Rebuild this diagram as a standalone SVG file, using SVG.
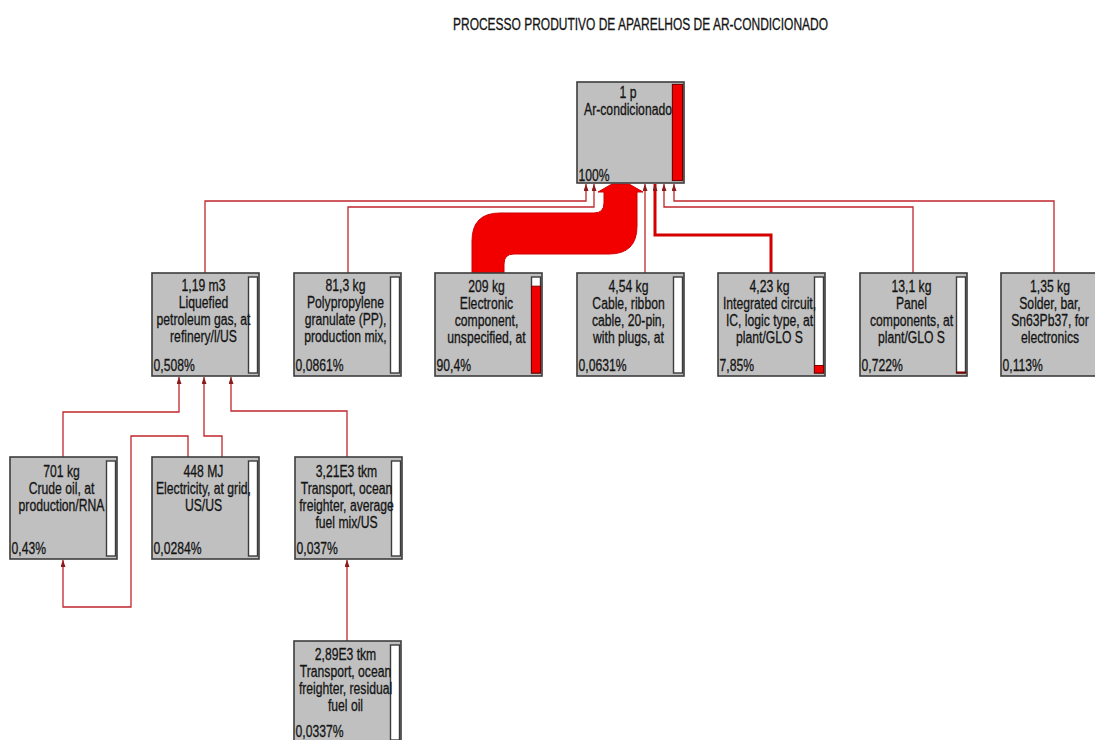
<svg xmlns="http://www.w3.org/2000/svg" width="1095" height="740" viewBox="0 0 1095 740">
  <defs>
    <style>
      .box{fill:#c0c0c0;stroke:#3c3c3c;stroke-width:1.6}
      .bar{fill:#ffffff;stroke:#3c3c3c;stroke-width:1.4}
      .lvl{fill:#f00000;stroke:#7a0000;stroke-width:1}
      text{font-family:"Liberation Sans",Arial,sans-serif;font-size:16px;fill:#141414;stroke:#141414;stroke-width:0.3}
      .c{text-anchor:middle}
      .wire{fill:none;stroke:#c0262c;stroke-width:1.3;marker-end:url(#arr)}
      .heavy{stroke:#d40000;stroke-width:3}
      .flow{fill:#f20000;stroke:#d00000;stroke-width:1}
    </style>
    <marker id="arr" viewBox="0 0 7 5" refX="7" refY="2.5" markerWidth="7" markerHeight="5" markerUnits="userSpaceOnUse" orient="auto">
      <path d="M0,0 L7,2.5 L0,5 z" fill="#8b1a1a"/>
    </marker>
  </defs>
  <rect width="1095" height="740" fill="#ffffff"/>

  <text id="title" x="453" y="30" font-size="17" textLength="375" lengthAdjust="spacingAndGlyphs">PROCESSO PRODUTIVO DE APARELHOS DE AR-CONDICIONADO</text>

  <!-- connectors -->
  <g id="connectors">
    <!-- heavy flow from electronic components -->
    <path class="flow" d="M472,273 V241 Q472,213 500,213 H594 Q604,213 604,203 V192 L598,192 L612,184 H629 L643,192 L637,192 V226 Q637,254 609,254 H514 Q504,254 504,264 V273 Z"/>
    <path class="wire" d="M205,273 V201 H586 V184"/>
    <path class="wire" d="M348,273 V207 H594 V184"/>
    <path class="wire" d="M645,273 V184"/>
    <path class="wire heavy" d="M771,273 V235 H655 V184"/>
    <path class="wire" d="M913,273 V207 H664 V184"/>
    <path class="wire" d="M1054,273 V201 H674 V184"/>
    <!-- inputs to liquefied petroleum gas -->
    <path class="wire" d="M63,457 V412 H179 V377"/>
    <path class="wire" d="M222,457 V436 H204 V377"/>
    <path class="wire" d="M347,457 V411 H231 V377"/>
    <!-- electricity to crude oil -->
    <path class="wire" d="M188,457 V436 H131 V607 H63 V560"/>
    <!-- residual fuel transport to average transport -->
    <path class="wire" d="M347,641 V560"/>
  </g>

  <!-- root process -->
  <g id="n-ac" transform="translate(577,82)">
    <rect class="box" width="107" height="101"/>
    <rect class="bar" x="95.5" y="2.5" width="10" height="96"/>
    <rect class="lvl" x="95.5" y="2.5" width="10" height="96"/>
    <text class="c" transform="translate(51,0) scale(0.76,1)"><tspan x="0" y="16">1 p</tspan><tspan x="0" y="33">Ar-condicionado</tspan></text>
    <text transform="translate(1.5,99) scale(0.76,1)">100%</text>
  </g>

  <g id="n-lpg" transform="translate(152,273)">
    <rect class="box" width="107" height="103"/>
    <rect class="bar" x="96.5" y="4" width="9" height="96"/>
    <text class="c" transform="translate(51.5,0) scale(0.76,1)"><tspan x="0" y="18">1,19 m3</tspan><tspan x="0" y="35">Liquefied</tspan><tspan x="0" y="52">petroleum gas, at</tspan><tspan x="0" y="69">refinery/l/US</tspan></text>
    <text transform="translate(1.5,98) scale(0.76,1)">0,508%</text>
  </g>

  <g id="n-pp" transform="translate(294,273)">
    <rect class="box" width="107" height="103"/>
    <rect class="bar" x="96.5" y="4" width="9" height="96"/>
    <text class="c" transform="translate(51.5,0) scale(0.76,1)"><tspan x="0" y="18">81,3 kg</tspan><tspan x="0" y="35">Polypropylene</tspan><tspan x="0" y="52">granulate (PP),</tspan><tspan x="0" y="69">production mix,</tspan></text>
    <text transform="translate(1.5,98) scale(0.76,1)">0,0861%</text>
  </g>

  <g id="n-elec-comp" transform="translate(435,273)">
    <rect class="box" width="107" height="103"/>
    <rect class="bar" x="96.5" y="4" width="9" height="96"/>
    <rect class="lvl" x="96.5" y="13.2" width="9" height="86.8"/>
    <text class="c" transform="translate(51.5,0) scale(0.76,1)"><tspan x="0" y="19">209 kg</tspan><tspan x="0" y="36">Electronic</tspan><tspan x="0" y="53">component,</tspan><tspan x="0" y="70">unspecified, at</tspan></text>
    <text transform="translate(1.5,98) scale(0.76,1)">90,4%</text>
  </g>

  <g id="n-cable" transform="translate(577,273)">
    <rect class="box" width="107" height="103"/>
    <rect class="bar" x="96.5" y="4" width="9" height="96"/>
    <text class="c" transform="translate(51.5,0) scale(0.76,1)"><tspan x="0" y="19">4,54 kg</tspan><tspan x="0" y="36">Cable, ribbon</tspan><tspan x="0" y="53">cable, 20-pin,</tspan><tspan x="0" y="70">with plugs, at</tspan></text>
    <text transform="translate(1.5,98) scale(0.76,1)">0,0631%</text>
  </g>

  <g id="n-ic" transform="translate(718,273)">
    <rect class="box" width="107" height="103"/>
    <rect class="bar" x="96.5" y="4" width="9" height="96"/>
    <rect class="lvl" x="96.5" y="92.5" width="9" height="7.5"/>
    <text class="c" transform="translate(51.5,0) scale(0.76,1)"><tspan x="0" y="19">4,23 kg</tspan><tspan x="0" y="36">Integrated circuit,</tspan><tspan x="0" y="53">IC, logic type, at</tspan><tspan x="0" y="70">plant/GLO S</tspan></text>
    <text transform="translate(1.5,98) scale(0.76,1)">7,85%</text>
  </g>

  <g id="n-panel" transform="translate(860,273)">
    <rect class="box" width="107" height="103"/>
    <rect class="bar" x="96.5" y="4" width="9" height="96"/>
    <rect class="lvl" x="96.5" y="99" width="9" height="1"/>
    <text class="c" transform="translate(51.5,0) scale(0.76,1)"><tspan x="0" y="19">13,1 kg</tspan><tspan x="0" y="36">Panel</tspan><tspan x="0" y="53">components, at</tspan><tspan x="0" y="70">plant/GLO S</tspan></text>
    <text transform="translate(1.5,98) scale(0.76,1)">0,722%</text>
  </g>

  <g id="n-solder" transform="translate(1001,273)">
    <rect class="box" width="107" height="103"/>
    <rect class="bar" x="96.5" y="4" width="9" height="96"/>
    <text class="c" transform="translate(49,0) scale(0.76,1)"><tspan x="0" y="19">1,35 kg</tspan><tspan x="0" y="36">Solder, bar,</tspan><tspan x="0" y="53">Sn63Pb37, for</tspan><tspan x="0" y="70">electronics</tspan></text>
    <text transform="translate(1.5,98) scale(0.76,1)">0,113%</text>
  </g>

  <g id="n-crude" transform="translate(10,457)">
    <rect class="box" width="107" height="102"/>
    <rect class="bar" x="96.5" y="4" width="9" height="95"/>
    <text class="c" transform="translate(51.5,0) scale(0.76,1)"><tspan x="0" y="20">701 kg</tspan><tspan x="0" y="37">Crude oil, at</tspan><tspan x="0" y="54">production/RNA</tspan></text>
    <text transform="translate(1.5,97) scale(0.76,1)">0,43%</text>
  </g>

  <g id="n-grid" transform="translate(152,457)">
    <rect class="box" width="107" height="102"/>
    <rect class="bar" x="96.5" y="4" width="9" height="95"/>
    <text class="c" transform="translate(51.5,0) scale(0.76,1)"><tspan x="0" y="20">448 MJ</tspan><tspan x="0" y="37">Electricity, at grid,</tspan><tspan x="0" y="54">US/US</tspan></text>
    <text transform="translate(1.5,97) scale(0.76,1)">0,0284%</text>
  </g>

  <g id="n-ocean-avg" transform="translate(295,457)">
    <rect class="box" width="107" height="102"/>
    <rect class="bar" x="96.5" y="4" width="9" height="95"/>
    <text class="c" transform="translate(51.5,0) scale(0.76,1)"><tspan x="0" y="20">3,21E3 tkm</tspan><tspan x="0" y="37">Transport, ocean</tspan><tspan x="0" y="54">freighter, average</tspan><tspan x="0" y="71">fuel mix/US</tspan></text>
    <text transform="translate(1.5,97) scale(0.76,1)">0,037%</text>
  </g>

  <g id="n-ocean-res" transform="translate(294,641)">
    <rect class="box" width="107" height="102"/>
    <rect class="bar" x="96.5" y="4" width="9" height="95"/>
    <text class="c" transform="translate(51.5,0) scale(0.76,1)"><tspan x="0" y="19">2,89E3 tkm</tspan><tspan x="0" y="36">Transport, ocean</tspan><tspan x="0" y="53">freighter, residual</tspan><tspan x="0" y="70">fuel oil</tspan></text>
    <text transform="translate(1.5,96) scale(0.76,1)">0,0337%</text>
  </g>
</svg>
